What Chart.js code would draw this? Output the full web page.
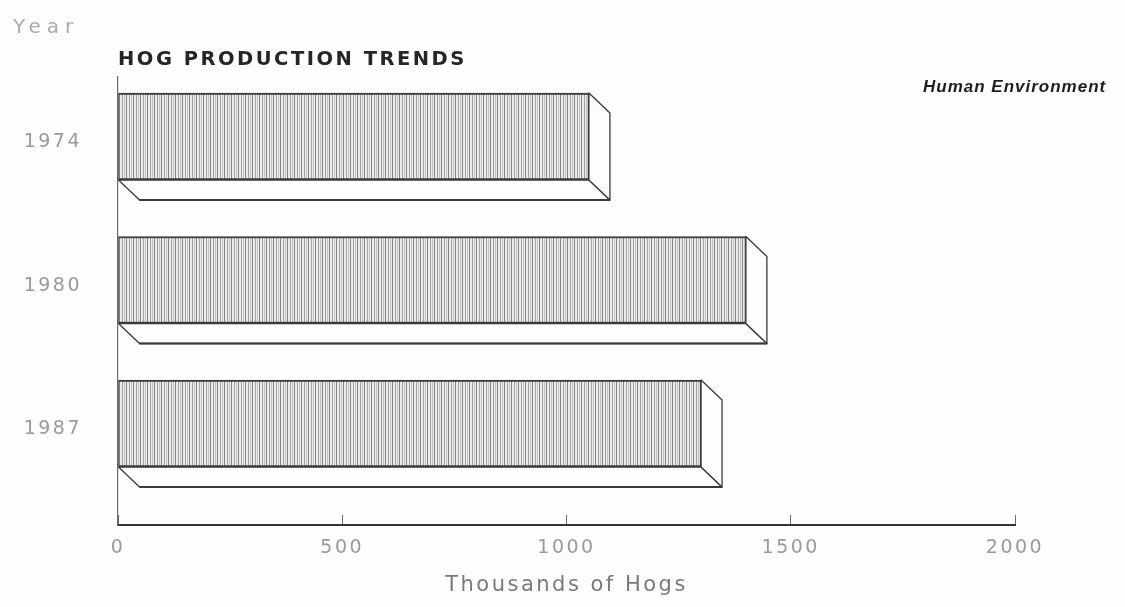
<!DOCTYPE html>
<html>
<head>
<meta charset="utf-8">
<title>Hog Production Trends</title>
<script src="https://cdn.jsdelivr.net/npm/chart.js@4.4.1/dist/chart.umd.min.js"></script>
<style>
  html, body { margin: 0; padding: 0; background: #fdfdfc; }
  #wrap { width: 1125px; height: 607px; position: relative; }
</style>
</head>
<body>
<div id="wrap"><canvas id="chart"></canvas></div>
<script>
// Hog production by year, thousands of head
const years = ['1974', '1980', '1987'];
const hogs = [1050, 1400, 1300];
const yearIndex = [0, 1, 2];
const xTickValues = [0, 500, 1000, 1500, 2000];

const titleText = 'HOG PRODUCTION TRENDS';
const sourceText = 'Human Environment';
const yAxisText = 'Year';
const xAxisText = 'Thousands of Hogs';

// Vertical-line hatching used on the front face of each bar
function makeHatch() {
  const pc = document.createElement('canvas');
  pc.width = 7; pc.height = 4;
  const p = pc.getContext('2d');
  p.fillStyle = '#ebebea';
  p.fillRect(0, 0, 7, 4);
  p.fillStyle = '#858585';
  p.fillRect(0, 0, 1, 4);
  p.fillStyle = '#a3a3a3';
  p.fillRect(3, 0, 1, 4);
  p.fillStyle = '#c4c4c4';
  p.fillRect(5, 0, 1, 4);
  return p.createPattern(pc, 'repeat');
}

// Spacing for the widely set axis lettering
const spacingPlugin = {
  id: 'letterSpacing',
  beforeUpdate(chart) { chart.ctx.letterSpacing = '2.5px'; },
  beforeDraw(chart) {
    const ctx = chart.ctx;
    ctx.letterSpacing = '2.5px';
    ctx.save();
    ctx.fillStyle = '#fdfdfc';
    ctx.fillRect(0, 0, chart.width, chart.height);
    ctx.restore();
  }
};

// Depth faces (floor strip and end cap) giving the bars their 3-D look
const depthPlugin = {
  id: 'barDepth',
  afterDatasetsDraw(chart, args, opts) {
    const ctx = chart.ctx;
    const dx = opts.dx, dy = opts.dy;
    chart.getDatasetMeta(0).data.forEach(bar => {
      const { x, y, base, height } = bar.getProps(['x', 'y', 'base', 'height'], true);
      const top = y - height / 2, bottom = y + height / 2;
      ctx.save();
      ctx.lineJoin = 'round';
      ctx.fillStyle = opts.fill;
      ctx.strokeStyle = opts.stroke;
      ctx.lineWidth = opts.lineWidth;
      // floor strip below the bar
      ctx.beginPath();
      ctx.moveTo(base, bottom);
      ctx.lineTo(base + dx, bottom + dy);
      ctx.lineTo(x + dx, bottom + dy);
      ctx.lineTo(x, bottom);
      ctx.closePath();
      ctx.fill();
      ctx.stroke();
      // end cap at the bar's value
      ctx.beginPath();
      ctx.moveTo(x, top);
      ctx.lineTo(x + dx, top + dy);
      ctx.lineTo(x + dx, bottom + dy);
      ctx.lineTo(x, bottom);
      ctx.closePath();
      ctx.fill();
      ctx.stroke();
      // heavier back edge of the floor strip
      ctx.lineWidth = opts.lineWidth + 0.6;
      ctx.beginPath();
      ctx.moveTo(base + dx, bottom + dy);
      ctx.lineTo(x + dx, bottom + dy);
      ctx.stroke();
      ctx.restore();
    });
  }
};

// Free-standing captions: axis caption at top left and source note at right
const captionPlugin = {
  id: 'captions',
  afterDraw(chart) {
    const ctx = chart.ctx;
    ctx.save();
    ctx.textBaseline = 'alphabetic';
    ctx.textAlign = 'left';
    ctx.letterSpacing = '6px';
    ctx.fillStyle = '#ababab';
    ctx.font = '20px "DejaVu Sans"';
    ctx.fillText(yAxisText, 13, 33);
    ctx.letterSpacing = '1px';
    ctx.fillStyle = '#1e1e1e';
    ctx.font = 'italic bold 17px "Liberation Sans"';
    ctx.fillText(sourceText, 923, 92);
    ctx.restore();
  }
};

const ctx = document.getElementById('chart').getContext('2d');
const hatch = makeHatch();

new Chart(ctx, {
  type: 'bar',
  data: {
    datasets: [{
      data: yearIndex.map((i) => ({ x: hogs[i], y: i })),
      backgroundColor: hatch,
      borderColor: '#3a3a3a',
      borderWidth: { top: 2, bottom: 2, left: 1, right: 1.5 },
      borderSkipped: false,
      barThickness: 87
    }]
  },
  plugins: [spacingPlugin, depthPlugin, captionPlugin],
  options: {
    indexAxis: 'y',
    responsive: true,
    maintainAspectRatio: false,
    animation: false,
    layout: { padding: { top: 0, left: 0, right: 110, bottom: 0 } },
    plugins: {
      legend: { display: false },
      tooltip: { enabled: false },
      title: {
        display: true,
        text: titleText,
        align: 'start',
        fullSize: false,
        color: '#262626',
        font: { family: 'DejaVu Sans', size: 19.5, weight: 'bold', lineHeight: 1.2 },
        padding: { top: 48, bottom: 5.6 }
      },
      barDepth: { dx: 21, dy: 20, fill: '#fdfdfc', stroke: '#3a3a3a', lineWidth: 1.3 }
    },
    scales: {
      x: {
        type: 'linear',
        position: 'bottom',
        min: xTickValues[0],
        max: xTickValues[xTickValues.length - 1],
        afterFit(scale) { scale.height = 82; },
        afterBuildTicks(scale) { scale.ticks = xTickValues.map(v => ({ value: v })); },
        border: { display: true, color: '#333', width: 2 },
        grid: { display: true, drawOnChartArea: false, drawTicks: true, tickLength: -10, color: '#6a6a6a', lineWidth: 1 },
        ticks: {
          color: '#9a9a9a',
          padding: 22,
          font: { family: 'DejaVu Sans', size: 19 },
          maxRotation: 0,
          autoSkip: false,
          callback: (v) => String(v)
        },
        title: {
          display: true,
          text: xAxisText,
          color: '#7a7a7a',
          font: { family: 'DejaVu Sans', size: 21 },
          padding: { top: 0, bottom: 9 }
        }
      },
      y: {
        type: 'linear',
        position: 'left',
        reverse: true,
        offset: false,
        min: -0.4146,
        max: 2.707,
        afterFit(scale) { scale.width = 118; },
        border: { display: true, color: '#6a6a6a', width: 1.2 },
        grid: { display: true, offset: false, drawOnChartArea: false, drawTicks: false },
        ticks: {
          stepSize: 1,
          includeBounds: false,
          color: '#9a9a9a',
          padding: 36,
          labelOffset: 6,
          font: { family: 'DejaVu Sans', size: 19 },
          callback: (v) => (Number.isInteger(v) && years[v] !== undefined ? years[v] : '')
        }
      }
    }
  }
});
</script>
</body>
</html>
